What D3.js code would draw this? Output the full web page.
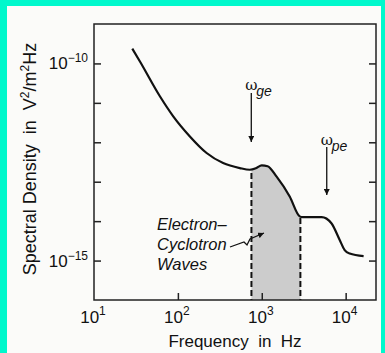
<!DOCTYPE html>
<meta charset="utf-8">
<style>
body { margin: 0; background: #fbfbf9; }
svg { display: block; font-family: "Liberation Sans", Arial, sans-serif; }
.frame { fill: none; stroke: #222; stroke-width: 1.5; }
.axis path { display: none; }
.axis line { stroke: #222; stroke-width: 1.5; }
.curve { fill: none; stroke: #111; stroke-width: 2.2; }
.dash { stroke: #111; stroke-width: 2; stroke-dasharray: 6,3; }
.lbl { font-size: 17px; fill: #111; }
</style>
<body></body>
<script src="https://cdnjs.cloudflare.com/ajax/libs/d3/7.8.5/d3.min.js"></script>
<script>
// spectrum (frequency in Hz, spectral density in V^2/m^2Hz)
var freq = [28.6, 35.3, 61, 88, 139, 220, 346, 547, 720, 850, 1000, 1175, 1496, 2153, 2831, 3076, 5176, 6761, 8492, 9727, 11170, 16370];
var density = [2.37e-10, 1.12e-10, 1.47e-11, 4.56e-12, 1.41e-12, 5.35e-13, 2.97e-13, 2.22e-13, 2.01e-13, 2.19e-13, 2.61e-13, 2.47e-13, 1.36e-13, 4.2e-14, 1.32e-14, 1.26e-14, 1.26e-14, 8.85e-15, 3.33e-15, 1.85e-15, 1.51e-15, 1.30e-15];
var xTicks = [10, 100, 1000, 10000];
var xTickExp = ["1", "2", "3", "4"];
var yTicks = [1e-15, 1e-14, 1e-13, 1e-12, 1e-11, 1e-10];
var yLabelTicks = [1e-15, 1e-10];
var yLabelExp = ["\u221215", "\u221210"];
var bandLo = 753, bandHi = 2886;   // electron-cyclotron band
var wge = 750, wpe = 5950;         // marked frequencies

var data = freq.map(function(f, i) { return {f: f, s: density[i]}; });

var svg = d3.select("body").append("svg")
    .attr("width", 385)
    .attr("height", 353);

// cyan border of the scan
svg.append("rect").attr("x", 0).attr("y", 0).attr("width", 385).attr("height", 6).attr("fill", "#00f8cc");
svg.append("rect").attr("x", 0).attr("y", 0).attr("width", 7).attr("height", 353).attr("fill", "#00f8cc");
svg.append("rect").attr("x", 381).attr("y", 0).attr("width", 4).attr("height", 353).attr("fill", "#00f8cc");

var x = d3.scaleLog().domain([10, 23000]).range([94, 376]);
var y = d3.scaleLog().domain([1e-16, 1e-9]).range([300, 24]);

var line = d3.line()
    .x(function(d) { return x(d.f); })
    .y(function(d) { return y(d.s); })
    .curve(d3.curveMonotoneX);

var area = d3.area()
    .x(function(d) { return x(d.f); })
    .y0(y(1e-16))
    .y1(function(d) { return y(d.s); })
    .curve(d3.curveMonotoneX);

var defs = svg.append("defs");
defs.append("clipPath").attr("id", "band")
  .append("rect")
    .attr("x", x(bandLo)).attr("y", 0)
    .attr("width", x(bandHi) - x(bandLo)).attr("height", 353);
defs.append("clipPath").attr("id", "under")
  .append("path").attr("d", area(data));

// shaded band under the curve
svg.append("path")
    .attr("d", area(data))
    .attr("fill", "#cccccc")
    .attr("clip-path", "url(#band)");

// dashed band edges, clipped to the area under the curve
svg.append("g").attr("clip-path", "url(#under)")
  .selectAll("line").data([bandLo, bandHi]).enter().append("line")
    .attr("class", "dash")
    .attr("x1", function(d) { return x(d); })
    .attr("x2", function(d) { return x(d); })
    .attr("y1", 20)
    .attr("y2", y(1e-16));

// frame
svg.append("rect").attr("class", "frame")
    .attr("x", x(10)).attr("y", y(1e-9))
    .attr("width", x(23000) - x(10)).attr("height", y(1e-16) - y(1e-9));

// inward ticks
svg.append("g").attr("class", "axis")
    .attr("transform", "translate(0," + y(1e-16) + ")")
    .call(d3.axisBottom(x).tickValues(xTicks.slice(1)).tickSize(-7).tickFormat(""));
svg.append("g").attr("class", "axis")
    .attr("transform", "translate(" + x(10) + ",0)")
    .call(d3.axisLeft(y).tickValues(yTicks).tickSize(-7).tickFormat(""));
svg.append("g").attr("class", "axis")
    .attr("transform", "translate(" + x(23000) + ",0)")
    .call(d3.axisRight(y).tickValues(yTicks).tickSize(-7).tickFormat(""));

// curve
svg.append("path").datum(data).attr("class", "curve").attr("d", line);

// tick labels with superscripts
var xl = svg.selectAll(".xl").data(xTicks).enter().append("text")
    .attr("class", "lbl")
    .attr("x", function(d) { return x(d) - 1; })
    .attr("y", 323)
    .attr("text-anchor", "middle");
xl.append("tspan").text("10");
xl.append("tspan").attr("dy", -8).attr("font-size", 12).text(function(d, i) { return xTickExp[i]; });

var yl = svg.selectAll(".yl").data(yLabelTicks).enter().append("text")
    .attr("class", "lbl")
    .attr("x", 88)
    .attr("y", function(d) { return y(d) + 6; })
    .attr("text-anchor", "end");
yl.append("tspan").text("10");
yl.append("tspan").attr("dy", -7).attr("font-size", 12).text(function(d, i) { return yLabelExp[i]; });

// axis titles
svg.append("text").attr("class", "lbl")
    .attr("x", 235).attr("y", 347)
    .attr("text-anchor", "middle")
    .style("white-space", "pre")
    .text("Frequency  in  Hz");

var yt = svg.append("text").attr("class", "lbl")
    .attr("transform", "translate(36,159) rotate(-90)")
    .attr("text-anchor", "middle")
    .style("font-size", "18px")
    .style("white-space", "pre");
yt.append("tspan").text("Spectral Density  in  V");
yt.append("tspan").attr("dy", -7).attr("font-size", 12).text("2");
yt.append("tspan").attr("dy", 7).text("/m");
yt.append("tspan").attr("dy", -7).attr("font-size", 12).text("2");
yt.append("tspan").attr("dy", 7).text("Hz");

// omega markers
defs.append("marker").attr("id", "head")
    .attr("viewBox", "0 0 10 10").attr("refX", 10).attr("refY", 5)
    .attr("markerWidth", 6).attr("markerHeight", 6)
    .attr("markerUnits", "userSpaceOnUse")
    .attr("orient", "auto")
  .append("path").attr("d", "M0,0L10,5L0,10z").attr("fill", "#111");

var marks = [
  {f: wge, sub: "ge", top: 93, bot: 142, ty: 90},
  {f: wpe, sub: "pe", top: 147, bot: 195, ty: 145}
];
marks.forEach(function(m) {
  var px = x(m.f);
  svg.append("line")
      .attr("x1", px).attr("x2", px)
      .attr("y1", m.top).attr("y2", m.bot)
      .attr("stroke", "#111").attr("stroke-width", 1.3)
      .attr("marker-end", "url(#head)");
  svg.append("text")
      .attr("x", px - 6).attr("y", m.ty)
      .attr("font-family", "'DejaVu Serif', serif")
      .attr("font-size", 15).attr("fill", "#111")
      .text("\u03c9");
  svg.append("text")
      .attr("x", px + 5).attr("y", m.ty + 6)
      .attr("font-style", "italic")
      .attr("font-size", 14).attr("fill", "#111")
      .text(m.sub);
});

// band label
var note = ["Electron\u2013", "Cyclotron", "Waves"];
svg.selectAll(".note").data(note).enter().append("text")
    .attr("x", 157)
    .attr("y", function(d, i) { return 230 + i * 20; })
    .attr("font-style", "italic")
    .attr("font-size", 16.5)
    .attr("fill", "#111")
    .text(function(d) { return d; });

// squiggle pointer into the band
svg.append("path")
    .attr("d", "M230,247L244,242L247,245L250,239L264,233")
    .attr("fill", "none").attr("stroke", "#111").attr("stroke-width", 1.3)
    .attr("marker-end", "url(#head)");
</script>
